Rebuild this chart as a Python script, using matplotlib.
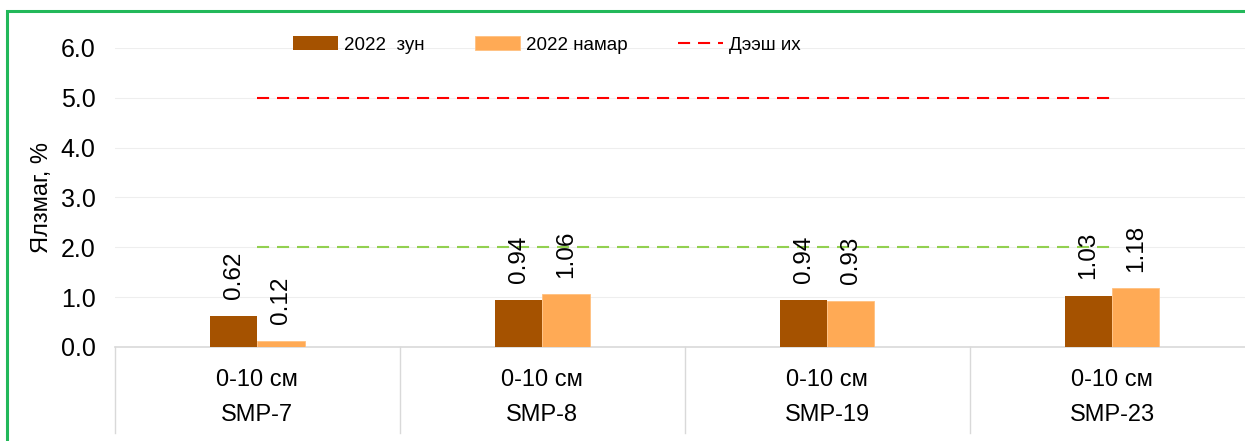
import numpy as np
import matplotlib
matplotlib.use('Agg')
import matplotlib.pyplot as plt
from matplotlib.patches import Rectangle
import matplotlib.transforms as mtransforms

plt.rcParams['font.family'] = ['Liberation Sans', 'DejaVu Sans']

# Өгөгдөл
points = ['SMP-7', 'SMP-8', 'SMP-19', 'SMP-23']
depth = ['0-10 см', '0-10 см', '0-10 см', '0-10 см']
summer_2022 = [0.62, 0.94, 0.94, 1.03]
autumn_2022 = [0.12, 1.06, 0.93, 1.18]
upper_limit = [5.0, 5.0, 5.0, 5.0]
lower_line = [2.0, 2.0, 2.0, 2.0]
yticks = [0, 1, 2, 3, 4, 5, 6]

dark = '#a55200'
light = '#ffaa55'

fig = plt.figure(figsize=(12.45, 4.41), dpi=100)
ax = fig.add_axes([115 / 1245, 94 / 441, 1139.5 / 1245, 299 / 441])

x = np.arange(len(points))
w = 0.166
b1 = ax.bar(x - w / 2, summer_2022, w, color=dark, label='2022  зун', zorder=3)
b2 = ax.bar(x + w / 2, autumn_2022, w, color=light, edgecolor='#ffc080', linewidth=0.6,
            label='2022 намар', zorder=3)

l1, = ax.plot(x, upper_limit, color='#ff0000', lw=1.5, dashes=(5.8, 3.8), label='Дээш их', zorder=2)
ax.plot(x, lower_line, color='#92d050', lw=1.5, dashes=(5.8, 3.8), zorder=2)

# утгын шошго
for bars, vals in [(b1, summer_2022), (b2, autumn_2022)]:
    for r, v in zip(bars, vals):
        ax.annotate(f'{v:.2f}', (r.get_x() + r.get_width() / 2, v), xytext=(0, 12),
                    textcoords='offset points', rotation=90, ha='center', va='bottom',
                    fontsize=17.5, color='#000000')

ax.set_xlim(-0.5, len(points) - 0.5)
ax.set_ylim(0, 6)
ax.set_yticks(yticks)
ax.set_yticklabels([f'{t:.1f}' for t in yticks], fontsize=18)
ax.tick_params(axis='y', length=0, pad=14)
ax.set_xticks([])
ax.grid(axis='y', color='#eeeeee', lw=0.8, zorder=0)
for s in ['top', 'right', 'left']:
    ax.spines[s].set_visible(False)
ax.spines['bottom'].set_color('#d9d9d9')
ax.spines['bottom'].set_linewidth(1.2)

ax.set_ylabel('Ялзмаг, %', fontsize=17)
ax.yaxis.set_label_coords(-0.0545, 0.5)

# ангиллын тэнхлэг
trans = mtransforms.blended_transform_factory(ax.transData, ax.transAxes)
for i in range(len(points)):
    ax.text(x[i], -0.11, depth[i], transform=trans, ha='center', va='center', fontsize=17)
    ax.text(x[i], -0.227, points[i], transform=trans, ha='center', va='center', fontsize=17)
for xb in np.arange(len(points) + 1) - 0.5:
    ax.plot([xb, xb], [0, -0.288], transform=trans, color='#d9d9d9', lw=1.0, clip_on=False)

leg = ax.legend([b1, b2, l1], ['2022  зун', '2022 намар', 'Дээш их'],
                loc='center', bbox_to_anchor=(0.379, 1.01), ncol=3, frameon=False,
                fontsize=13.5, handlelength=2.4, handleheight=0.75, handletextpad=0.3,
                columnspacing=2.7)

# ногоон хүрээ
fig.patches.append(Rectangle((7 / 1245, -0.1), 1.1, (441 - 11) / 441 + 0.1, transform=fig.transFigure,
                             fill=False, edgecolor='#22b85a', lw=2.2))

fig.savefig('out.png', dpi=100)
